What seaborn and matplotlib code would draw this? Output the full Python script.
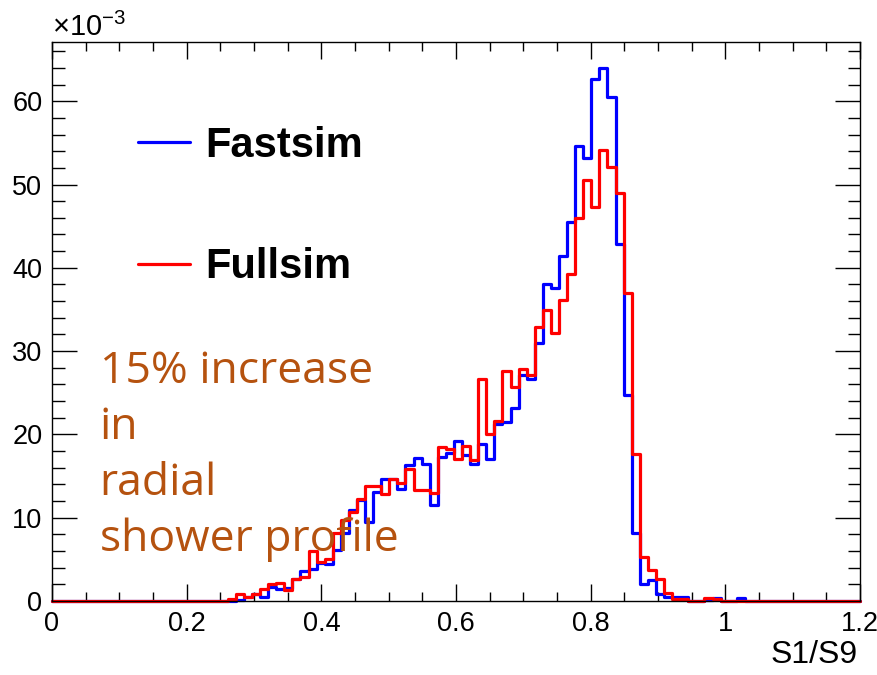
import numpy as np
import matplotlib
matplotlib.use("Agg")
import matplotlib.pyplot as plt
import seaborn as sns
from matplotlib.ticker import MultipleLocator, FuncFormatter

# histogram contents, units of 1e-3, 0.012 wide bins
bin_lo = -0.003
bin_w = 0.012

fastsim = [0]*23 + [
    0.1, 0.5, 0.9, 0.5, 1.7, 1.5, 1.6, 2.7, 3.6, 3.8,      # 23-32
    4.6, 4.5, 6.1, 8.2, 10.9, 12.1, 9.5, 13.1, 14.6, 14.6,  # 33-42
    13.5, 16.3, 17.2, 16.5, 11.5, 17.3, 17.8, 19.2, 17.5, 16.4,  # 43-52
    18.9, 17.0, 21.3, 21.5, 23.2, 27.1, 26.6, 31.0, 38.1, 37.6,  # 53-62
    41.4, 45.5, 54.6, 53.2, 62.7, 64.0, 60.5, 42.9, 24.7, 8.2,   # 63-72
    2.0, 2.5, 0.8, 0.5, 0.5, 0.5, 0, 0, 0.1, 0.4,               # 73-82
    0, 0, 0.4] + [0]*14

fullsim = [0]*22 + [
    0.3, 0.8, 0.5, 0.9, 1.4, 2.0, 2.2, 1.3, 2.7, 2.9,       # 22-31
    6.0, 4.7, 5.0, 8.2, 9.7, 10.7, 12.3, 13.8, 13.8, 12.9,  # 32-41
    14.7, 14.2, 15.9, 13.3, 13.3, 13.0, 18.5, 18.2, 17.0, 18.6,  # 42-51
    16.9, 26.7, 20.0, 21.6, 27.6, 25.7, 27.8, 27.1, 32.9, 34.9,  # 52-61
    32.2, 36.1, 39.2, 46.0, 50.5, 47.3, 54.1, 52.1, 49.0, 37.0,  # 62-71
    17.6, 5.3, 3.7, 2.7, 1.0, 0.3, 0.3, 0, 0, 0.4,              # 72-81
    0.2] + [0]*17

# edges, clipped to the axis range
edges = np.clip(bin_lo + bin_w * np.arange(len(fastsim) + 1), 0, None)
edges = np.append(edges, 1.2)
fastsim = np.append(fastsim, 0) * 1e-3
fullsim = np.append(fullsim, 0) * 1e-3
centers = (edges[:-1] + edges[1:]) / 2

sns.set_style("ticks")
plt.rcParams['font.family'] = ['Liberation Sans', 'DejaVu Sans']
plt.rcParams['text.color'] = 'black'
plt.rcParams['mathtext.fontset'] = 'custom'
plt.rcParams['mathtext.rm'] = 'Liberation Sans'
plt.rcParams['mathtext.default'] = 'regular'

fig = plt.figure(figsize=(8.78, 6.75), dpi=100)
ax = fig.add_axes([0.0592, 0.1096, 0.9203, 0.8281])

sns.histplot(x=centers, weights=fastsim, bins=list(edges), element='step', fill=False,
             color='blue', linewidth=2.3, label='Fastsim', ax=ax, clip_on=False)
sns.histplot(x=centers, weights=fullsim, bins=list(edges), element='step', fill=False,
             color='red', linewidth=2.3, label='Fullsim', ax=ax, clip_on=False)

ax.set_xlim(0, 1.2)
ax.set_ylim(0, 0.0671)
ax.set_xlabel('')
ax.set_ylabel('')

ax.xaxis.set_major_locator(MultipleLocator(0.2))
ax.xaxis.set_minor_locator(MultipleLocator(0.05))
ax.yaxis.set_major_locator(MultipleLocator(0.01))
ax.yaxis.set_minor_locator(MultipleLocator(0.002))
ax.xaxis.set_major_formatter(FuncFormatter(lambda v, p: f"{round(v, 2):g}"))
ax.yaxis.set_major_formatter(FuncFormatter(lambda v, p: f"{round(v * 1e3):g}"))

ax.tick_params(which='both', direction='in', top=True, right=True,
               colors='black', width=1, labelsize=19.5, pad=7)
ax.tick_params(axis='x', which='major', length=12.5)
ax.tick_params(axis='x', which='minor', length=6.5)
ax.tick_params(axis='y', which='major', length=18)
ax.tick_params(axis='y', which='minor', length=9)
for s in ax.spines.values():
    s.set_color('black')
    s.set_linewidth(1)

ax.text(0, 1.01, r'×10$^{-3}$', transform=ax.transAxes, ha='left',
        va='baseline', fontsize=21)
ax.text(0.997, -0.07, 'S1/S9', transform=ax.transAxes, ha='right', va='top',
        fontsize=23)

leg = ax.legend(loc='upper left', bbox_to_anchor=(0.106, 0.85), frameon=False,
                borderaxespad=0, borderpad=0, handlelength=1.25, handletextpad=0.37,
                labelspacing=1.95, prop=dict(weight='bold', size=30))
for t in leg.get_texts():
    t.set_color('black')

ax.text(0.059, 0.45, "15% increase\nin\nradial\nshower profile",
        transform=ax.transAxes, ha='left', va='top', color='#B5520F',
        fontfamily='Open Sans', fontsize=32, linespacing=1.34)

fig.savefig('out.png', dpi=100)
